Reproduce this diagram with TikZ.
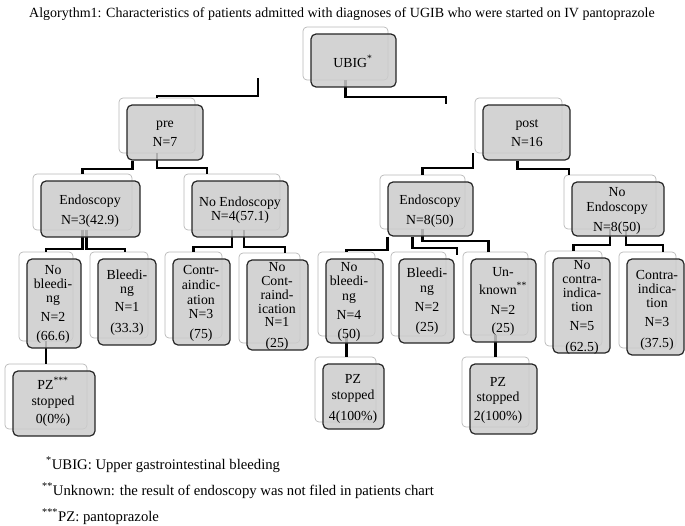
\documentclass[tikz,border=0pt]{standalone}
\usepackage{fontspec}
\setmainfont{Liberation Serif}
\usetikzlibrary{calc}
\pgfdeclarelayer{bg}
\pgfsetlayers{bg,main}
\tikzset{
  backbox/.style={draw=black!28, fill=white, rounded corners=4pt, line width=0.7pt, inner sep=0pt},
  frontbox/.style={draw=black!85, fill=black!20, fill opacity=0.85, rounded corners=5pt, line width=1.2pt, inner sep=0pt},
  conn/.style={line width=2.2pt, black},
  lbl/.style={font=\fontsize{13.8}{15}\selectfont, anchor=base, inner sep=0pt},
  foot/.style={font=\fontsize{14.7}{16}\selectfont, anchor=base west, inner sep=0pt}
}
\newcommand\mycard[5]{%
  \pgfmathsetmacro\mcW{#4-#2}%
  \pgfmathsetmacro\mcH{#5-#3}%
  \pgfmathsetmacro\mcX{(#2+#4)/2}%
  \pgfmathsetmacro\mcY{(#3+#5)/2}%
  \begin{pgfonlayer}{bg}
    \node[backbox, minimum width=\mcW pt, minimum height=\mcH pt] (#1-b) at (\mcX-8,\mcY-7) {};
  \end{pgfonlayer}
  \node[frontbox, minimum width=\mcW pt, minimum height=\mcH pt] (#1) at (\mcX,\mcY) {};
}
\newcommand\mylines[3]{%
  \foreach \ly/\lt [count=\li] in {#3} {\node[lbl] (#1-t\li) at (#2,\ly) {\lt};}%
}
\begin{document}
\begin{tikzpicture}[x=1pt,y=-1pt]
\useasboundingbox (0,0) rectangle (685,525);

\node[font=\fontsize{14}{16}\selectfont, anchor=base, inner sep=0pt] (title) at (342,17) {Algorythm1: Characteristics of patients admitted with diagnoses of UGIB who were started on IV pantoprazole};

% cards
\mycard{ubig}{311}{34}{396}{87}
\mycard{pre}{127}{105}{203}{160}
\mycard{post}{483}{105}{570}{160}
\mycard{endoPre}{41}{181}{140}{237}
\mycard{noEndoPre}{192}{181}{288}{237}
\mycard{endoPost}{388}{182}{473}{236}
\mycard{noEndoPost}{572}{182}{664}{236}
\mycard{nbPre}{27}{259}{81}{348}
\mycard{blPre}{98}{259}{156}{345}
\mycard{ciPre}{173}{259}{230}{345}
\mycard{nciPre}{247}{260}{308}{350}
\mycard{nbPost}{326}{259}{383}{343}
\mycard{blPost}{399}{259}{454}{343}
\mycard{unk}{471}{259}{536}{342}
\mycard{nciPost}{553}{258}{610}{353}
\mycard{ciPost}{627}{259}{684}{355}
\mycard{pzA}{13}{371}{95}{436}
\mycard{pzB}{323}{364}{384}{429}
\mycard{pzC}{470}{364}{537}{434}

% connectors
\coordinate (c1) at (258,78);
\coordinate (c2) at (446,104);
\begin{pgfonlayer}{bg}
\draw[conn] (c1) -- ++(0,18) -| (pre-b.north);
\draw[conn] (ubig-b.south) -- ++(0,17) -| (c2);
\draw[conn] ($(pre.south west)+(6,0)$) -- ++(0,8) -| (endoPre-b.north);
\draw[conn] (pre-b.south) -- ++(0,15) -| ($(noEndoPre-b.north west)+(23,0)$);
\draw[conn] ($(post-b.south west)+(-2,0)$) -- ++(0,15) -| (endoPost-b.north);
\draw[conn] ($(post.south west)+(35,0)$) -- ++(0,8) -| ($(noEndoPost-b.north west)+(5,0)$);
\draw[conn] (endoPre-b.south) -- ++(0,19) -| (nbPre-b.north);
\draw[conn] ($(endoPre-b.south)+(4,0)$) -- ++(0,19) -| ($(blPre-b.north)+(6,0)$);
\draw[conn] (noEndoPre-b.south) -- ++(0,17) -| (ciPre-b.north);
\draw[conn] ($(noEndoPre-b.south)+(12,0)$) -- ++(0,17) -| ($(nciPre-b.north east)+(-15,0)$);
\draw[conn] (endoPost.south west) -- ++(0,13) -| (nbPost-b.north);
\draw[conn] ($(endoPost.south west)+(25,0)$) -- ++(0,11) -| ($(blPost.north east)+(2,-3)$);
\draw[conn] (endoPost-b.south) -- ++(0,12) -| ($(unk-b.north)+(-7,0)$);
\draw[conn] (noEndoPost-b.south) -- ++(0,16) -| (nciPost-b.north);
\draw[conn] ($(noEndoPost-b.south)+(16,0)$) -- ++(0,16) -| ($(ciPost-b.north east)+(-13,0)$);
\draw[conn] (nbPre-b.south) -- (pzA-b.north);
\draw[conn] (nbPost-b.south) -- (nbPost-b.south |- pzB-b.north);
\draw[conn] (unk-b.south) -- (pzC-b.north);
\end{pgfonlayer}

% texts
\mylines{ubig}{353}{67/UBIG\textsuperscript{*}}
\mylines{pre}{165}{127/pre, 146/N=7}
\mylines{post}{527}{127/post, 146/N=16}
\mylines{endoPre}{90}{204/Endoscopy, 224/N=3(42.9)}
\mylines{noEndoPre}{240}{206/No Endoscopy, 220/N=4(57.1)}
\mylines{endoPost}{430}{204/Endoscopy, 224/N=8(50)}
\mylines{noEndoPost}{617}{196/No, 211/Endoscopy, 231/N=8(50)}
\mylines{nbPre}{53}{274/No, 288/bleedi-, 302/ng, 321/N=2, 340/(66.6)}
\mylines{blPre}{127}{279/Bleedi-, 293/ng, 311/N=1, 332/(33.3)}
\mylines{ciPre}{201}{274/Contr-, 289/aindic-, 304/ation, 318/N=3, 338/(75)}
\mylines{nciPre}{277}{271/No, 285/Cont-, 299/raind-, 313/ication, 326/N=1, 347/(25)}
\mylines{nbPost}{349}{271/No, 285/bleedi-, 300/ng, 319/N=4, 338/(50)}
\mylines{blPost}{427}{277/Bleedi-, 292/ng, 311/N=2, 331/(25)}
\mylines{unk}{503}{276/Un-, 294/known\textsuperscript{**}, 314/N=2, 332/(25)}
\mylines{nciPost}{582}{269/No, 283/contra-, 297/indica-, 311/tion, 330/N=5, 351/(62.5)}
\mylines{ciPost}{657}{279/Contra-, 293/indica-, 307/tion, 326/N=3, 347/(37.5)}
\mylines{pzA}{53}{389/PZ\textsuperscript{***}, 405/stopped, 423/0(0\%)}
\mylines{pzB}{353}{383/PZ, 399/stopped, 420/4(100\%)}
\mylines{pzC}{498}{386/PZ, 401/stopped, 420/2(100\%)}

% footnotes
\node[foot] (fn1) at (46,469) {\textsuperscript{*}UBIG: Upper gastrointestinal bleeding};
\node[foot] (fn2) at (42,495) {\textsuperscript{**}Unknown: the result of endoscopy was not filed in patients chart};
\node[foot] (fn3) at (42,521) {\textsuperscript{***}PZ: pantoprazole};
\end{tikzpicture}
\end{document}
